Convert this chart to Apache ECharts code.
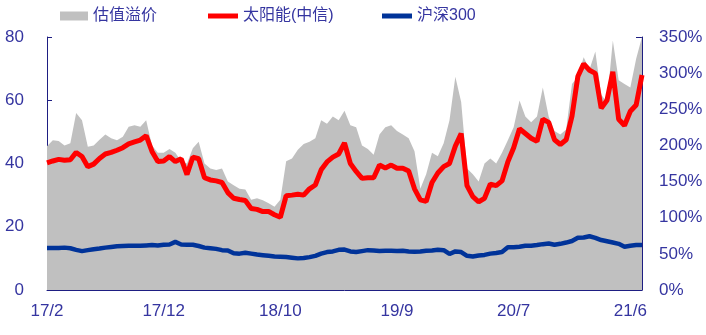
<!DOCTYPE html>
<html>
<head>
<meta charset="utf-8">
<script src="https://cdn.jsdelivr.net/npm/echarts@6/dist/echarts.min.js"></script>
<style>
html,body{margin:0;padding:0;background:#fff;}
#chart{width:706px;height:335px;}
</style>
</head>
<body>
<div id="chart"></div>
<script>
// tick labels shown every 20 categories
const tickLabels = ['17/2','17/12','18/10','19/9','20/7','21/6'];
// series names
const seriesNames = ['估值溢价','太阳能(中信)','沪深300'];
// valuation premium (%), right axis
const premium = [199,207,206,200,203,245,235,198,200,208,
215,210,207,212,226,228,226,235,200,190,
190,195,190,178,175,196,205,175,168,166,
168,150,145,140,139,125,127,124,120,115,
125,178,182,194,202,205,210,235,230,240,
235,248,228,225,200,195,187,215,225,228,
220,215,210,192,140,160,190,185,203,235,
295,260,168,160,150,175,182,175,190,207,
225,262,240,232,240,280,240,220,215,222,
285,295,322,305,330,270,260,345,290,285,
280,320,350];
// solar (CITIC) PE, left axis
const solar = [40.2,40.8,41.3,41.0,41.2,43.5,42.2,39.0,39.8,41.6,
43.0,43.5,44.2,45.0,46.2,46.8,47.4,48.8,43.8,40.6,
40.8,42.2,40.6,41.5,36.5,42.0,41.5,35.5,34.8,34.5,
34.0,30.8,29.0,28.6,28.3,25.8,25.5,24.8,24.8,23.8,
23.0,29.8,30.0,30.3,30.0,32.0,33.2,38.0,40.5,42.0,
43.0,46.5,40.0,37.5,35.3,35.5,35.5,39.5,38.6,39.5,
38.5,38.5,37.6,32.0,28.5,28.0,34.0,37.0,39.0,40.0,
45.5,49.5,33.0,29.5,27.9,29.0,33.5,33.0,34.5,40.5,
45.0,51.0,49.5,48.0,47.0,54.0,53.0,47.5,46.0,47.5,
55.0,67.5,71.5,69.5,68.5,57.5,60.0,69.0,54.0,52.0,
56.5,58.5,68.0];
// CSI 300 PE, left axis
const hs300 = [13.3,13.3,13.3,13.4,13.2,12.7,12.3,12.6,12.9,13.1,
13.4,13.6,13.8,13.9,14.0,14.0,14.0,14.1,14.2,14.1,
14.3,14.4,15.2,14.4,14.3,14.3,13.9,13.4,13.2,13.0,
12.6,12.5,11.6,11.5,11.8,11.5,11.2,11.0,10.8,10.6,
10.5,10.4,10.2,10.0,10.1,10.4,10.8,11.5,12.0,12.2,
12.7,12.8,12.2,12.0,12.3,12.6,12.5,12.3,12.4,12.4,
12.3,12.4,12.2,12.1,12.2,12.4,12.5,12.7,12.6,11.4,
12.2,12.0,10.8,10.6,10.9,11.1,11.5,11.7,12.0,13.5,
13.5,13.7,14.0,14.0,14.2,14.5,14.7,14.3,14.6,15.0,
15.5,16.5,16.6,17.0,16.5,15.8,15.4,15.0,14.6,13.7,
14.0,14.2,14.2];
const categories = premium.map((_, i) => String(i));

const navy = '#1e1e82';
const labelColor = '#3535a0';
const chart = echarts.init(document.getElementById('chart'), null, {renderer:'canvas'});
const legendText = {color: labelColor, fontSize: 16, fontFamily: 'Liberation Sans, Noto Sans CJK SC'};
chart.setOption({
  animation: false,
  backgroundColor: '#fff',
  grid: {left: 47, right: 64, top: 37, bottom: 45, containLabel: false},
  legend: [
    {data: [seriesNames[0]], left: 60, top: 8, padding: 0, icon: 'rect', itemWidth: 28, itemHeight: 9, textStyle: legendText},
    {data: [seriesNames[1]], left: 208, top: 8, padding: 0, icon: 'rect', itemWidth: 30, itemHeight: 5, textStyle: legendText},
    {data: [seriesNames[2]], left: 382, top: 8, padding: 0, icon: 'rect', itemWidth: 30, itemHeight: 5, textStyle: legendText}
  ],
  xAxis: {
    type: 'category', data: categories, boundaryGap: false,
    axisLine: {lineStyle: {color: navy, width: 1}},
    axisTick: {inside: true, length: 6, lineStyle: {color: navy}, interval: (i) => i % 20 === 0},
    axisLabel: {
      interval: (i) => i % 20 === 0,
      formatter: (v, i) => tickLabels[i / 20] || '',
      color: labelColor, fontSize: 17, fontFamily: 'Liberation Sans', margin: 13
    },
    splitLine: {show: false}
  },
  yAxis: [
    {
      type: 'value', min: 0, max: 80, interval: 20, position: 'left',
      axisLine: {show: true, lineStyle: {color: navy}},
      axisTick: {show: true, inside: true, length: 5, lineStyle: {color: navy}},
      axisLabel: {color: labelColor, fontSize: 17, fontFamily: 'Liberation Sans', margin: 23},
      splitLine: {show: false}
    },
    {
      type: 'value', min: 0, max: 350, interval: 50, position: 'right',
      axisLine: {show: true, lineStyle: {color: navy}},
      axisTick: {show: true, inside: true, length: 6, lineStyle: {color: navy}},
      axisLabel: {color: labelColor, fontSize: 17, fontFamily: 'Liberation Sans', margin: 17, formatter: '{value}%'},
      splitLine: {show: false}
    }
  ],
  series: [
    {
      name: seriesNames[0], type: 'line', yAxisIndex: 1, data: premium,
      symbol: 'none', lineStyle: {width: 0, color: '#c0c0c0'},
      itemStyle: {color: '#c0c0c0'},
      areaStyle: {color: '#c0c0c0', opacity: 1}, z: 1
    },
    {
      name: seriesNames[1], type: 'line', yAxisIndex: 0, data: solar,
      symbol: 'none', lineStyle: {width: 5, color: '#ff0000'},
      itemStyle: {color: '#ff0000'}, z: 3
    },
    {
      name: seriesNames[2], type: 'line', yAxisIndex: 0, data: hs300,
      symbol: 'none', lineStyle: {width: 4.5, color: '#003399'},
      itemStyle: {color: '#003399'}, z: 3
    }
  ]
});
</script>
</body>
</html>
